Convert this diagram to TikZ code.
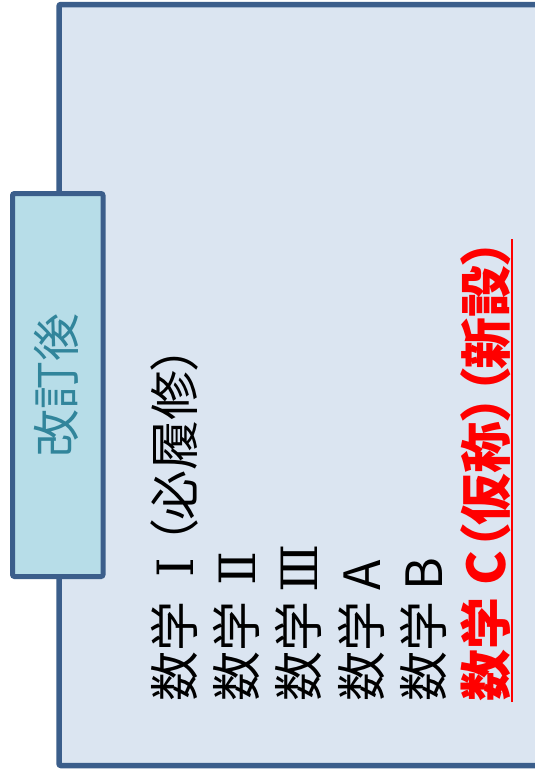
\documentclass[tikz,border=0pt]{standalone}
\usepackage{fontspec}
\setmainfont{Noto Sans CJK JP}[RawFeature=+palt]
\newfontfamily\numfont{DejaVu Serif}
\newcommand\romnum[1]{\makebox[.9em]{\numfont #1}}
\definecolor{frameblue}{RGB}{59,94,139}
\definecolor{panelfill}{RGB}{219,229,241}
\definecolor{tabfill}{RGB}{183,221,232}
\definecolor{tabtext}{RGB}{49,133,155}
\tikzset{subject/.style={rotate=90,anchor=west,inner sep=0pt,font=\fontsize{50}{60}\selectfont}}
\begin{document}
\begin{tikzpicture}[x=1pt,y=-1pt]
            \useasboundingbox (0,0)rectangle(535,779);
            \draw[frameblue,line width=5.5pt,fill=panelfill,rounded corners=2pt] (59,4.5)rectangle(570,765.5);
            \draw[frameblue,line width=5pt,fill=tabfill,rounded corners=2pt] (12.5,193.5)rectangle(103,576.5);
            \node[rotate=90,inner sep=0pt,text=tabtext,font=\fontsize{48}{58}\selectfont] (tab) at (56,385) {改訂後};
            \foreach \u \v \w in {174/mA/数学 \romnum{Ⅰ}（必履修）, 236/mB/数学 \romnum{Ⅱ}, 298/mC/数学 \romnum{Ⅲ}, 361/mD/数学 A, 423/mE/数学 B}{
                    \node[subject] (\v) at (\u,702) {\w};
                }
            \node[subject,text=red,font=\fontsize{52}{62}\selectfont\bfseries] (mF) at (486,702) {数学 C（仮称）（新設）};
            \draw[red,line width=1.8pt] ([xshift=1pt]mF.south west)--([xshift=1pt]mF.south east);
        \end{tikzpicture}
\end{document}
